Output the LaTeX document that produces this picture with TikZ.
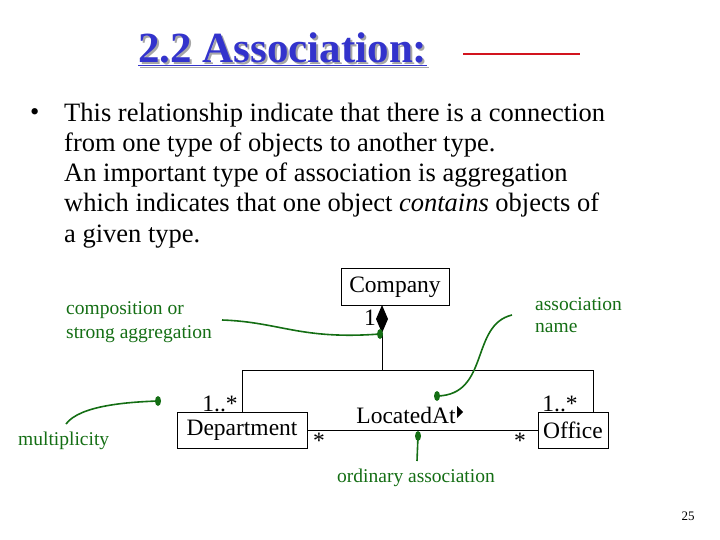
\documentclass[tikz,border=0pt]{standalone}
\usepackage{fontspec}
\setmainfont{Liberation Serif}
\definecolor{tblue}{RGB}{51,51,204}
\definecolor{tgreen}{RGB}{20,110,20}
\definecolor{tred}{RGB}{210,20,30}
\begin{document}
\begin{tikzpicture}[x=1pt,y=-1pt,
  body/.style={anchor=west,inner sep=0pt,font=\fontsize{26.5}{30}\selectfont},
  cls/.style={draw,line width=0.8pt,inner sep=0pt,font=\fontsize{23.5}{26}\selectfont},
  lbl/.style={inner sep=0pt,font=\fontsize{23.5}{26}\selectfont},
  note/.style={inner sep=0pt,anchor=west,text=tgreen,font=\fontsize{19.5}{22}\selectfont},
  gl/.style={draw=tgreen,line width=1.6pt}]
\useasboundingbox (0,0) rectangle (720,540);
\node (shadow) [anchor=base west,inner sep=0pt,text=gray!70,font=\bfseries\fontsize{43}{46}\selectfont] at (140,65) {\underline{2.2 Association:}};
\node (title) [anchor=base west,inner sep=0pt,text=tblue,font=\bfseries\fontsize{43}{46}\selectfont] at (138,63) {\underline{2.2 Association:}};
\coordinate (r1) at (463,54); \coordinate (r2) at (580,54);
\draw[tred,line width=2.5pt] (r1) -- (r2);
\node (bul) [body] at (30,115) {•};
\node (t1) [body] at (64,115) {This relationship indicate that there is a connection};
\node (t2) [body] at (64,145) {from one type of objects to another type.};
\node (t3) [body] at (64,175) {An important type of association is aggregation};
\node (t4) [body] at (64,205) {which indicates that one object \emph{contains} objects of};
\node (t5) [body] at (64,237) {a given type.};
% classes
\node (comp) [cls,minimum width=108,minimum height=37] at (395,287) {Company};
\node (dept) [cls,minimum width=130,minimum height=36] at (242,430) {Department};
\node (off)  [cls,minimum width=70,minimum height=36] at (573,430) {Office};
\coordinate (dtop) at (382,305);
\coordinate (dbot) at (382,333);
\fill (dtop) -- (388,319) -- (dbot) -- (376,319) -- cycle;
\coordinate (j1) at (382,370); \coordinate (jl) at (242,370); \coordinate (jr) at (593,370);
\draw[line width=0.8pt] (dbot) -- (j1);
\draw[line width=0.8pt] (jl) -- (jr);
\draw[line width=0.8pt] (jl) -- (jl |- dept.north);
\draw[line width=0.8pt] (jr) -- (jr |- off.north);
\draw[line width=0.8pt] (dept.east) -- (off.west);
\node (m1) [lbl] at (370,318) {1};
\node (m2) [lbl] at (220,404) {1..*};
\node (m3) [lbl] at (560,404) {1..*};
\node (s1) [lbl] at (319,441) {*};
\node (s2) [lbl] at (520,441) {*};
\node (la) [lbl] at (406,415) {LocatedAt};
\fill (457,406) -- (463,412) -- (457,418) -- cycle;
% notes
\node (n1) [note] at (66,310) {composition or};
\node (n2) [note] at (66,334) {strong aggregation};
\node (n3) [note] at (535,304) {association};
\node (n4) [note] at (535,328) {name};
\node (n5) [note] at (18,441) {multiplicity};
\node (n6) [note,anchor=center] at (416,478) {ordinary association};
\coordinate (c1) at (222,320); \coordinate (d1) at (380,334);
\draw[gl] (c1) .. controls (280,322) and (300,340) .. (d1);
\fill[tgreen] (d1) ellipse (3 and 5);
\coordinate (c2) at (512,315); \coordinate (d2) at (437,396);
\draw[gl] (c2) .. controls (470,325) and (490,395) .. (d2);
\fill[tgreen] (d2) ellipse (3 and 5);
\coordinate (c3) at (66,424); \coordinate (d3) at (158,401);
\draw[gl] (c3) .. controls (80,405) and (130,402) .. (d3);
\fill[tgreen] (d3) ellipse (3 and 5);
\coordinate (d4) at (418,436); \coordinate (c4) at (417,461);
\draw[gl] (d4) -- (c4);
\fill[tgreen] (d4) ellipse (3 and 5);
\node (pg) [inner sep=0pt,font=\fontsize{13}{14}\selectfont] at (688,516) {25};
\end{tikzpicture}
\end{document}
